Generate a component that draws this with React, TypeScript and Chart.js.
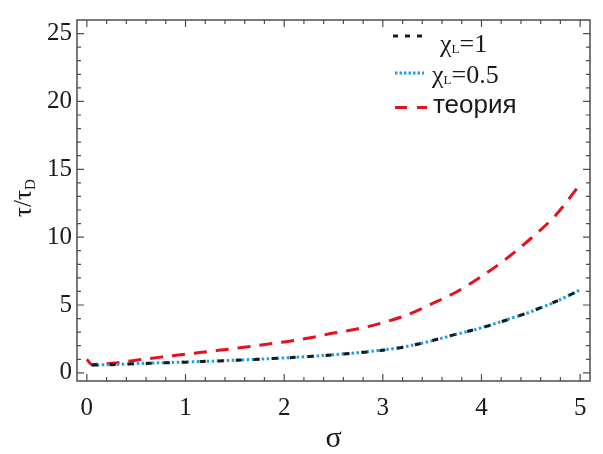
import { useEffect, useRef } from "react";
import { Chart, registerables } from "chart.js";

Chart.register(...registerables);

// σ grid and τ/τD values
const sigmaTheory = [0, 0.05, 0.25, 0.5, 0.75, 1, 1.25, 1.5, 1.75, 2, 2.25, 2.5, 2.75, 3, 3.25, 3.5, 3.75, 4, 4.25, 4.5, 4.75, 5];
const tauTheory = [1.0, 0.62, 0.7, 0.93, 1.16, 1.38, 1.59, 1.8, 2.03, 2.28, 2.57, 2.93, 3.25, 3.7, 4.28, 5.1, 5.98, 7.1, 8.4, 9.9, 11.6, 13.9];

const sigmaSim = [0.05, 0.25, 0.5, 0.75, 1, 1.25, 1.5, 1.75, 2, 2.25, 2.5, 2.75, 3, 3.25, 3.5, 3.75, 4, 4.25, 4.5, 4.75, 5];
const tauChi1 = [0.57, 0.6, 0.67, 0.73, 0.79, 0.86, 0.93, 1.01, 1.1, 1.2, 1.33, 1.48, 1.67, 1.95, 2.38, 2.86, 3.32, 3.88, 4.52, 5.25, 6.1];
const tauChi05 = [0.57, 0.61, 0.68, 0.74, 0.8, 0.86, 0.93, 1.01, 1.1, 1.21, 1.34, 1.49, 1.68, 1.96, 2.37, 2.85, 3.32, 3.9, 4.5, 5.24, 6.12];

const xTicks = [0, 1, 2, 3, 4, 5];
const yTicks = [0, 5, 10, 15, 20, 25];

const SERIF = "Liberation Serif";
const SANS = "Liberation Sans";
const AXIS = "#4d4d4d";
const BLACK = "#1a1a1a";
const BLUE = "#1e9fe0";
const RED = "#e3121c";

const pts = (xs: number[], ys: number[]) => xs.map((x, i) => ({ x, y: ys[i] }));
const serif = (size: number) => `${size}px "${SERIF}", "Times New Roman", serif`;
const sans = (size: number) => `${size}px "${SANS}", Arial, sans-serif`;

// frame with inward ticks on all four sides, axis titles and legend
const framePlugin = {
  id: "frame",
  afterDatasetsDraw(chart: any) {
    const { ctx, chartArea: a, scales } = chart;
    const xs = scales.x;
    const ys = scales.y;
    ctx.save();
    ctx.strokeStyle = AXIS;
    ctx.lineWidth = 1.5;
    ctx.strokeRect(a.left, a.top, a.right - a.left, a.bottom - a.top);
    ctx.lineWidth = 1.2;
    ctx.beginPath();
    for (let i = 0; i <= 25; i++) {
      const v = i / 5;
      const px = xs.getPixelForValue(v);
      const len = i % 5 === 0 ? 7 : 4;
      ctx.moveTo(px, a.bottom);
      ctx.lineTo(px, a.bottom - len);
      ctx.moveTo(px, a.top);
      ctx.lineTo(px, a.top + len);
    }
    for (let v = 0; v <= 26; v++) {
      const py = ys.getPixelForValue(v);
      if (py < a.top + 1) continue;
      const len = v % 5 === 0 ? 7 : 4;
      ctx.moveTo(a.left, py);
      ctx.lineTo(a.left + len, py);
      ctx.moveTo(a.right, py);
      ctx.lineTo(a.right - len, py);
    }
    ctx.stroke();

    // axis titles
    ctx.fillStyle = "#1a1a1a";
    ctx.textBaseline = "alphabetic";
    ctx.font = serif(30);
    ctx.textAlign = "center";
    ctx.fillText("σ", (a.left + a.right) / 2, 447);

    ctx.save();
    ctx.translate(31, 198);
    ctx.rotate(-Math.PI / 2);
    ctx.font = serif(25);
    const main = "τ/τ";
    const wMain = ctx.measureText(main).width;
    ctx.font = serif(15);
    const wSub = ctx.measureText("D").width;
    const x0 = -(wMain + wSub) / 2;
    ctx.textAlign = "left";
    ctx.font = serif(25);
    ctx.fillText(main, x0, 0);
    ctx.font = serif(15);
    ctx.fillText("D", x0 + wMain, 4);
    ctx.restore();

    // legend
    const drawSample = (color: string, dash: number[], width: number, x1: number, x2: number, y: number) => {
      ctx.save();
      ctx.strokeStyle = color;
      ctx.lineWidth = width;
      ctx.setLineDash(dash);
      ctx.beginPath();
      ctx.moveTo(x1, y);
      ctx.lineTo(x2, y);
      ctx.stroke();
      ctx.restore();
    };
    const drawChi = (x: number, baseline: number, rest: string) => {
      ctx.textAlign = "left";
      ctx.font = serif(26);
      ctx.fillText("χ", x, baseline);
      let cx = x + ctx.measureText("χ").width;
      ctx.font = serif(13);
      ctx.fillText("L", cx, baseline + 1);
      cx += ctx.measureText("L").width;
      ctx.font = serif(26);
      ctx.fillText(rest, cx, baseline);
    };
    drawSample(BLACK, [5, 7], 3, 393, 427, 36);
    drawChi(440, 52, "=1");
    drawSample(BLUE, [2.5, 2], 3, 395, 424, 73);
    drawChi(432, 83, "=0.5");
    drawSample(RED, [12, 10], 3, 395, 427, 107.5);
    ctx.font = sans(26);
    ctx.textAlign = "left";
    ctx.fillText("теория", 433, 113);
    ctx.restore();
  },
};

export default function App() {
  const ref = useRef<HTMLCanvasElement | null>(null);

  useEffect(() => {
    let chart: Chart | null = null;
    let alive = true;
    const build = () => {
      if (!alive || !ref.current) return;
      chart = new Chart(ref.current, {
        type: "line",
        data: {
          datasets: [
            {
              label: "теория",
              data: pts(sigmaTheory, tauTheory),
              borderColor: RED,
              borderWidth: 3,
              borderDash: [13, 9],
              pointRadius: 0,
              fill: false,
              cubicInterpolationMode: "monotone",
              order: 3,
            },
            {
              label: "χL=1",
              data: pts(sigmaSim, tauChi1),
              borderColor: BLACK,
              borderWidth: 3,
              borderDash: [6, 12],
              pointRadius: 0,
              fill: false,
              cubicInterpolationMode: "monotone",
              order: 1,
            },
            {
              label: "χL=0.5",
              data: pts(sigmaSim, tauChi05),
              borderColor: BLUE,
              borderWidth: 3,
              borderDash: [2.5, 2.5],
              pointRadius: 0,
              fill: false,
              cubicInterpolationMode: "monotone",
              order: 2,
            },
          ],
        },
        options: {
          animation: false,
          responsive: false,
          devicePixelRatio: 1,
          layout: { padding: { top: 11, right: 13, left: 0, bottom: 0 } },
          plugins: { legend: { display: false }, tooltip: { enabled: false } },
          scales: {
            x: {
              type: "linear",
              min: -0.1,
              max: 5.1,
              grid: { display: false, drawTicks: false },
              border: { display: false },
              afterBuildTicks: (s: any) => {
                s.ticks = xTicks.map((v) => ({ value: v }));
              },
              afterFit: (s: any) => {
                s.height = 73;
              },
              ticks: {
                padding: 12,
                maxRotation: 0,
                color: "#1a1a1a",
                font: { family: `"${SERIF}", "Times New Roman", serif`, size: 25 },
                callback: (v: any) => String(v),
              },
            },
            y: {
              type: "linear",
              min: -0.6,
              max: 26,
              grid: { display: false, drawTicks: false },
              border: { display: false },
              afterBuildTicks: (s: any) => {
                s.ticks = yTicks.map((v) => ({ value: v }));
              },
              afterFit: (s: any) => {
                s.width = 77;
              },
              ticks: {
                padding: 5,
                color: "#1a1a1a",
                font: { family: `"${SERIF}", "Times New Roman", serif`, size: 25 },
                callback: (v: any) => String(v),
              },
            },
          },
        } as any,
        plugins: [framePlugin],
      });
    };
    const fonts: any = (document as any).fonts;
    if (fonts && fonts.load) {
      Promise.all([
        fonts.load(`25px "${SERIF}"`, "0125στχ"),
        fonts.load(`26px "${SANS}"`, "теория"),
      ])
        .catch(() => undefined)
        .then(build);
    } else {
      build();
    }
    return () => {
      alive = false;
      if (chart) chart.destroy();
    };
  }, []);

  return (
    <div style={{ position: "absolute", left: 0, top: 0, width: 603, height: 454 }}>
      <span style={{ position: "absolute", visibility: "hidden", fontFamily: `"${SERIF}"` }}>0125στχ</span>
      <span style={{ position: "absolute", visibility: "hidden", fontFamily: `"${SANS}"` }}>теория</span>
      <canvas
        ref={ref}
        width={603}
        height={454}
        style={{ position: "absolute", left: 0, top: 0, width: 603, height: 454, display: "block", background: "#fff" }}
      />
    </div>
  );
}
